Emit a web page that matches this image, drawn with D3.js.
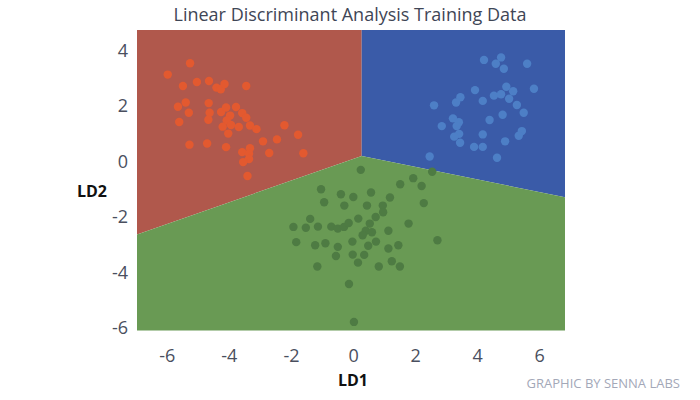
<!DOCTYPE html>
<html>
<head>
<meta charset="utf-8">
<script src="https://cdn.jsdelivr.net/npm/d3@7"></script>
<style>
  body { margin: 0; background: #fff; }
  text { font-family: "Open Sans", "Noto Sans", sans-serif; }
</style>
</head>
<body>
<script>
// training points, [LD1, LD2]
var redPoints = [
  [-5.25, 3.63], [-5.97, 3.22], [-5.48, 2.81], [-5.03, 2.95], [-4.64, 2.99],
  [-4.40, 2.75], [-4.26, 2.69], [-4.14, 2.88], [-3.44, 2.81], [-5.64, 2.06],
  [-5.39, 2.21], [-4.65, 2.19], [-5.29, 1.84], [-4.62, 1.84], [-4.66, 1.59],
  [-5.60, 1.51], [-4.25, 1.87], [-4.09, 2.03], [-3.77, 2.05], [-3.96, 1.74],
  [-3.57, 1.83], [-3.44, 1.66], [-4.07, 1.56], [-4.20, 1.34], [-3.93, 1.40],
  [-3.68, 1.33], [-3.32, 1.38], [-3.11, 1.25], [-4.02, 1.09], [-2.21, 1.39],
  [-1.77, 1.05], [-5.27, 0.69], [-4.70, 0.73], [-4.09, 0.60], [-2.90, 0.81],
  [-2.45, 0.88], [-3.57, 0.42], [-3.32, 0.56], [-3.35, 0.36], [-3.35, 0.17],
  [-3.54, 0.06], [-2.70, 0.39], [-1.60, 0.38], [-3.40, -0.44]
];
var bluePoints = [
  [4.22, 3.75], [4.77, 3.84], [4.60, 3.61], [4.86, 3.43], [5.61, 3.61],
  [3.93, 2.66], [4.94, 2.78], [5.16, 2.62], [5.83, 2.71], [4.54, 2.46],
  [4.77, 2.51], [5.03, 2.35], [3.46, 2.40], [3.32, 2.21], [4.18, 2.27],
  [2.61, 2.11], [5.28, 2.12], [5.50, 1.84], [4.82, 1.77], [3.22, 1.64],
  [3.41, 1.50], [3.34, 1.36], [2.86, 1.36], [4.40, 1.58], [3.42, 1.08],
  [3.26, 0.98], [4.18, 1.06], [5.44, 1.18], [5.34, 1.01], [3.45, 0.76],
  [4.90, 0.81], [3.90, 0.61], [4.18, 0.61], [4.64, 0.22], [2.47, 0.26]
];
var greenPoints = [
  [0.25, -0.22], [-1.03, -0.92], [-0.39, -1.10], [0.01, -1.20], [0.58, -1.04],
  [-0.93, -1.39], [-0.28, -1.51], [0.45, -1.51], [0.96, -1.51], [1.19, -1.22],
  [1.52, -0.74], [1.94, -0.52], [2.21, -0.80], [2.55, -0.29], [2.28, -1.42],
  [0.97, -1.75], [0.73, -1.92], [0.17, -1.98], [0.54, -2.16], [-1.38, -1.99],
  [-1.92, -2.28], [-1.52, -2.31], [-1.13, -2.27], [-0.70, -2.27], [-0.49, -2.34],
  [-0.29, -2.28], [-0.14, -2.14], [0.41, -2.42], [0.61, -2.47], [0.31, -2.58],
  [1.14, -2.42], [1.79, -2.16], [2.72, -2.76], [-1.83, -2.83], [-1.22, -2.94],
  [-0.89, -2.87], [-0.02, -2.81], [0.74, -2.81], [-0.49, -3.00], [0.49, -2.96],
  [1.14, -3.06], [1.46, -2.94], [-0.55, -3.33], [-0.01, -3.28], [0.36, -3.29],
  [0.16, -3.57], [1.25, -3.52], [-1.15, -3.71], [0.83, -3.71], [1.51, -3.71],
  [-0.13, -4.34], [0.03, -5.71]
];

// axis extents and the decision boundaries between the three classes
var xExtent = [-6.96, 6.83];
var yExtent = [-6.02, 4.83];
var junction = [0.28, 0.28];
var leftEnd = [-6.96, -2.55];
var rightEnd = [6.83, -1.21];
var xTicks = [-6, -4, -2, 0, 2, 4, 6];
var yTicks = [-6, -4, -2, 0, 2, 4];

var width = 700, height = 400;
var plotLeft = 137, plotRight = 565, plotTop = 30, plotBottom = 330.5;

var svg = d3.select('body')
    .append('svg')
    .attr('width', width)
    .attr('height', height);

var x = d3.scaleLinear().domain(xExtent).range([plotLeft, plotRight]);
var y = d3.scaleLinear().domain(yExtent).range([plotBottom, plotTop]);

var regions = [
  { fill: '#b0584c', pts: [[xExtent[0], yExtent[1]], [junction[0], yExtent[1]], junction, leftEnd] },
  { fill: '#3a5ba8', pts: [[junction[0], yExtent[1]], [xExtent[1], yExtent[1]], rightEnd, junction] },
  { fill: '#699a54', pts: [leftEnd, junction, rightEnd, [xExtent[1], yExtent[0]], [xExtent[0], yExtent[0]]] }
];

var line = d3.line().x(function (d) { return x(d[0]); }).y(function (d) { return y(d[1]); });

svg.selectAll('path.region')
    .data(regions)
    .enter()
    .append('path')
    .attr('class', 'region')
    .attr('d', function (d) { return line(d.pts) + 'Z'; })
    .attr('fill', function (d) { return d.fill; });

var groups = [
  { color: '#e3592f', pts: redPoints },
  { color: '#4d7fc6', pts: bluePoints },
  { color: '#4e7b43', pts: greenPoints }
];

groups.forEach(function (g) {
  svg.append('g')
      .selectAll('circle')
      .data(g.pts)
      .enter()
      .append('circle')
      .attr('cx', function (d) { return x(d[0]); })
      .attr('cy', function (d) { return y(d[1]); })
      .attr('r', 4.2)
      .attr('fill', g.color);
});

// axes without lines, labels only; plain hyphen for negatives like the original
var fmt = function (d) { return String(d); };
var xAxis = svg.append('g')
    .attr('transform', 'translate(0,' + (plotBottom + 18) + ')')
    .call(d3.axisBottom(x).tickValues(xTicks).tickFormat(fmt).tickSize(0).tickPadding(0));
var yAxis = svg.append('g')
    .attr('transform', 'translate(' + (plotLeft - 9) + ',0)')
    .call(d3.axisLeft(y).tickValues(yTicks).tickFormat(fmt).tickSize(0).tickPadding(0));

[xAxis, yAxis].forEach(function (a) {
  a.select('.domain').remove();
  a.selectAll('text')
      .attr('font-family', '"Open Sans", sans-serif')
      .attr('font-size', 18)
      .attr('fill', '#4a4f5e');
});
xAxis.selectAll('text').attr('dy', '0.75em');
yAxis.selectAll('text').attr('dy', '0.2em');

svg.append('text')
    .attr('x', 350)
    .attr('y', 21)
    .attr('text-anchor', 'middle')
    .attr('font-size', 18)
    .attr('fill', '#3f4656')
    .text('Linear Discriminant Analysis Training Data');

svg.append('text')
    .attr('x', 353)
    .attr('y', 386)
    .attr('text-anchor', 'middle')
    .attr('font-size', 16)
    .attr('font-weight', 'bold')
    .attr('fill', '#111')
    .text('LD1');

svg.append('text')
    .attr('x', 92)
    .attr('y', 197)
    .attr('text-anchor', 'middle')
    .attr('font-size', 16)
    .attr('font-weight', 'bold')
    .attr('fill', '#111')
    .text('LD2');

svg.append('text')
    .attr('x', 680)
    .attr('y', 388)
    .attr('text-anchor', 'end')
    .attr('font-size', 13)
    .attr('fill', '#a3a8b8')
    .text('GRAPHIC BY SENNA LABS');
</script>
</body>
</html>
